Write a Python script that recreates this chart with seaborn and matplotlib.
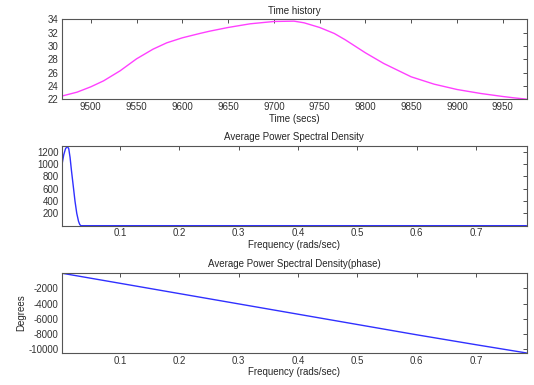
import numpy as np
import pandas as pd
import seaborn as sns
import matplotlib.pyplot as plt

sns.set_style('white')
plt.rcParams['font.family'] = ['Liberation Sans', 'DejaVu Sans']
plt.rcParams['axes.unicode_minus'] = False

# time history (secs, value)
time_secs = [9468, 9485, 9500, 9514, 9532, 9550, 9568, 9583, 9600, 9619, 9630,
             9650, 9674, 9700, 9722, 9733, 9750, 9766, 9778, 9800, 9820, 9850,
             9875, 9900, 9926, 9950, 9962, 9976]
time_vals = [22.5, 23.1, 23.9, 24.8, 26.3, 28.1, 29.55, 30.5, 31.25, 31.9, 32.25,
             32.8, 33.35, 33.7, 33.75, 33.5, 32.8, 31.9, 30.95, 29.0, 27.4, 25.4,
             24.3, 23.5, 22.9, 22.45, 22.25, 22.05]

# average PSD (rads/sec, magnitude)
psd_freq = [0.0013, 0.0026, 0.005, 0.008, 0.011, 0.0135, 0.0157, 0.018, 0.0212,
            0.024, 0.027, 0.030, 0.032, 0.0338, 0.1, 0.3, 0.5, 0.7, 0.785]
psd_vals = [950, 1020, 1150, 1250, 1290, 1250, 1110, 900, 635,
            400, 200, 70, 20, 0, 0, 0, 0, 0, 0]

# phase (rads/sec, degrees)
phase_freq = [0.0013, 0.1, 0.2, 0.3, 0.4, 0.5, 0.6, 0.7, 0.785]
phase_vals = [-20, -1350, -2700, -4050, -5400, -6750, -8100, -9400, -10480]

fig = plt.figure(figsize=(5.34, 3.85), dpi=100)
left, width = 0.1152, 0.8708
ax1 = fig.add_axes([left, 0.7416, width, 0.2078])
ax2 = fig.add_axes([left, 0.4138, width, 0.2078])
ax3 = fig.add_axes([left, 0.0831, width, 0.2078])

sns.lineplot(x=time_secs, y=time_vals, ax=ax1, color='#ff40ff', linewidth=1)
ax1.set_xlim(9468, 9976)
ax1.set_ylim(22, 34)
ax1.set_xticks(np.arange(9500, 9951, 50))
ax1.set_yticks(np.arange(22, 35, 2))
ax1.set_title('Time history', fontsize=7, pad=4)
ax1.set_xlabel('Time (secs)', fontsize=7, labelpad=1)

sns.lineplot(x=psd_freq, y=psd_vals, ax=ax2, color='#3030ff', linewidth=1)
ax2.set_xlim(0.0013, 0.785)
ax2.set_ylim(0, 1300)
ax2.set_xticks(np.arange(0.1, 0.71, 0.1))
ax2.set_yticks(np.arange(200, 1201, 200))
ax2.set_title('Average Power Spectral Density', fontsize=7, pad=4)
ax2.set_xlabel('Frequency (rads/sec)', fontsize=7, labelpad=1)

sns.lineplot(x=phase_freq, y=phase_vals, ax=ax3, color='#3030ff', linewidth=1)
ax3.set_xlim(0.0013, 0.785)
ax3.set_ylim(-10485, 0)
ax3.set_xticks(np.arange(0.1, 0.71, 0.1))
ax3.set_yticks(np.arange(-10000, -1999, 2000))
ax3.set_title('Average Power Spectral Density(phase)', fontsize=7, pad=4)
ax3.set_xlabel('Frequency (rads/sec)', fontsize=7, labelpad=1)
ax3.set_ylabel('Degrees', fontsize=7, labelpad=2)

for ax in (ax1, ax2, ax3):
    ax.xaxis.set_major_formatter(plt.FuncFormatter(lambda v, p: ('%g' % round(v, 4))))
    ax.tick_params(direction='in', length=3, width=0.6, labelsize=7, pad=2,
                   top=True, right=True, colors='#333333')
    for s in ax.spines.values():
        s.set_color('#555555')
        s.set_linewidth(0.8)

fig.savefig('out.png', dpi=100)
